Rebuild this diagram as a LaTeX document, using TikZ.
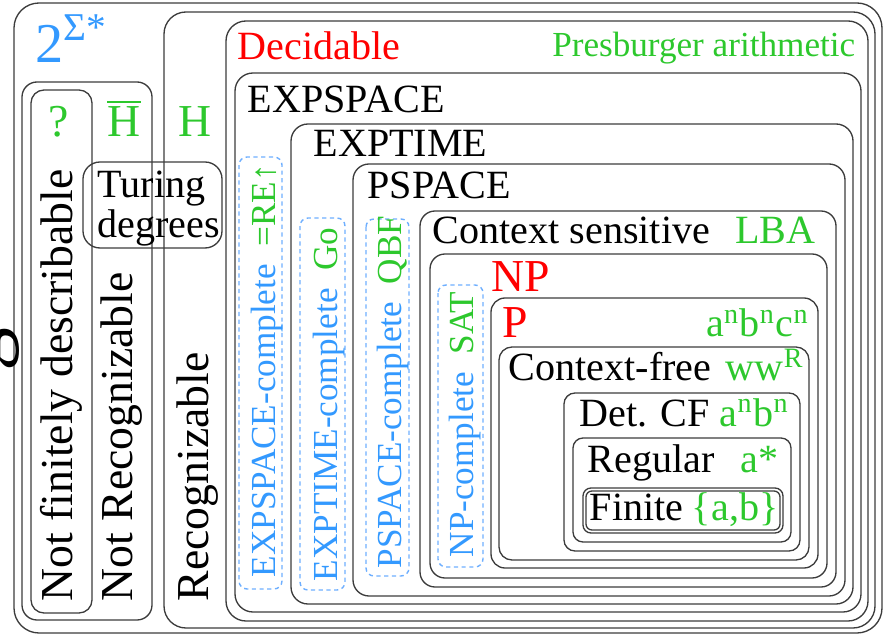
\documentclass[tikz,border=0pt]{standalone}
\usepackage{fontspec}
\setmainfont{Liberation Serif}
\usepackage{xcolor}
\usepackage{tikz}
\definecolor{setgreen}{RGB}{45,200,45}
\definecolor{setred}{RGB}{255,0,0}
\definecolor{setblue}{RGB}{51,153,255}
\definecolor{dashblue}{RGB}{110,175,255}
\definecolor{linegray}{RGB}{60,60,60}

\begin{document}
\begin{tikzpicture}[
  x=0.01cm, y=-0.01cm,
  every node/.style={inner sep=0pt},
  box/.style={draw=linegray, line width=0.38pt, rounded corners=#1},
  box/.default=0.15cm,
  dbox/.style={draw=dashblue, line width=0.4pt, dash pattern=on 1.2pt off 1pt, rounded corners=0.08cm},
  lbl/.style={font=\fontsize{11.4}{13}\selectfont},
  big/.style={font=\fontsize{13}{15}\selectfont},
  small/.style={font=\fontsize{10}{12}\selectfont},
  vert/.style={rotate=90, anchor=base west}
]
\useasboundingbox (0,0) rectangle (888,634);

% nested classes
\draw[box=0.25cm] (14,3) rectangle (882,633);
\draw[box=0.22cm] (164,12) rectangle (875,628);
\draw[box=0.2cm] (226,21) rectangle (868,621);
\draw[box=0.18cm] (235,73) rectangle (861,612);
\draw[box=0.17cm] (291,124) rectangle (853,604);
\draw[box=0.16cm] (353,164) rectangle (845,596);
\draw[box=0.15cm] (420,211) rectangle (836,587);
\draw[box=0.15cm] (430,254) rectangle (827,578);
\draw[box=0.14cm] (491,298) rectangle (818,568);
\draw[box=0.13cm] (499,347) rectangle (809,560);
\draw[box=0.11cm] (564,393) rectangle (800,551);
\draw[box=0.1cm] (573,438) rectangle (791,542);
\draw[box=0.08cm] (583,488) rectangle (783,533);
\draw[box=0.06cm] (586,491) rectangle (780,530);

\draw[box=0.15cm] (22,82) rectangle (152,620);
\draw[box=0.13cm] (31,90) rectangle (92,613);
\draw[box=0.17cm] (83,162) rectangle (222,248);

\draw[dbox] (239,157) rectangle (282,589);
\draw[dbox] (300,218) rectangle (345,590);
\draw[dbox] (366,219) rectangle (409,576);
\draw[dbox] (438,285) rectangle (483,567);

% labels
\node[font=\fontsize{16}{18}\selectfont, text=setblue, anchor=base west] (powerset) at (35,63) {2\textsuperscript{Σ*}};
\node[font=\fontsize{25}{27}\selectfont, vert] (cutglyph) at (0,372) {g};
\node[big, text=setgreen, anchor=base] (unknown) at (59,137) {?};
\node[big, text=setgreen, anchor=base] (hbar) at (124,137) {$\overline{\mbox{H}}$};
\node[big, text=setgreen, anchor=base] (halt) at (195,137) {H};
\node[lbl, align=left, anchor=north west, font=\fontsize{11.4}{10}\selectfont] (turing) at (97,170) {Turing\\degrees};

\node[big, vert] (nfd) at (72,602) {Not finitely describable};
\node[big, vert] (notrec) at (132,602) {Not Recognizable};
\node[big, vert] (recog) at (208,602) {Recognizable};

\node[lbl, text=setred, anchor=base west] (decid) at (237,60) {Decidable};
\node[small, text=setgreen, anchor=base east] (presb) at (856,57) {Presburger arithmetic};
\node[lbl, anchor=base west] (expspace) at (247,113) {EXPSPACE};
\node[lbl, anchor=base west] (exptime) at (313,157) {EXPTIME};
\node[lbl, anchor=base west] (pspace) at (367,199) {PSPACE};
\node[lbl, anchor=base west] (cs) at (432,244) {Context sensitive};
\node[lbl, text=setgreen, anchor=base east] (lba) at (816,244) {LBA};
\node[big, text=setred, anchor=base west] (np) at (491,292) {NP};
\node[big, text=setred, anchor=base west] (p) at (502,338) {P};
\node[lbl, text=setgreen, anchor=base east] (anbncn) at (810,337) {a\textsuperscript{n}b\textsuperscript{n}c\textsuperscript{n}};
\node[lbl, anchor=base west] (cf) at (508,381) {Context-free};
\node[lbl, text=setgreen, anchor=base east] (wwr) at (805,381) {ww\textsuperscript{R}};
\node[lbl, anchor=base west] (detcf) at (579,426) {Det. CF};
\node[lbl, text=setgreen, anchor=base east] (anbn) at (790,426) {a\textsuperscript{n}b\textsuperscript{n}};
\node[lbl, anchor=base west] (regular) at (587,472) {Regular};
\node[lbl, text=setgreen, anchor=base west] (astar) at (740,472) {a*};
\node[lbl, anchor=base west] (finite) at (589,521) {Finite};
\node[lbl, text=setgreen, anchor=base east] (ab) at (779,521) {\{a,b\}};

\node[small, vert, text=setblue] (expspacec) at (275,578) {EXPSPACE-complete\ \ \textcolor{setgreen}{=RE↑}};
\node[small, vert, text=setblue] (exptimec) at (337,582) {EXPTIME-complete\ \ \textcolor{setgreen}{Go}};
\node[small, vert, text=setblue] (pspacec) at (401,569) {PSPACE-complete\ \ \textcolor{setgreen}{QBF}};
\node[small, vert, text=setblue] (npc) at (473,558) {NP-complete\ \ \textcolor{setgreen}{SAT}};

\end{tikzpicture}
\end{document}
